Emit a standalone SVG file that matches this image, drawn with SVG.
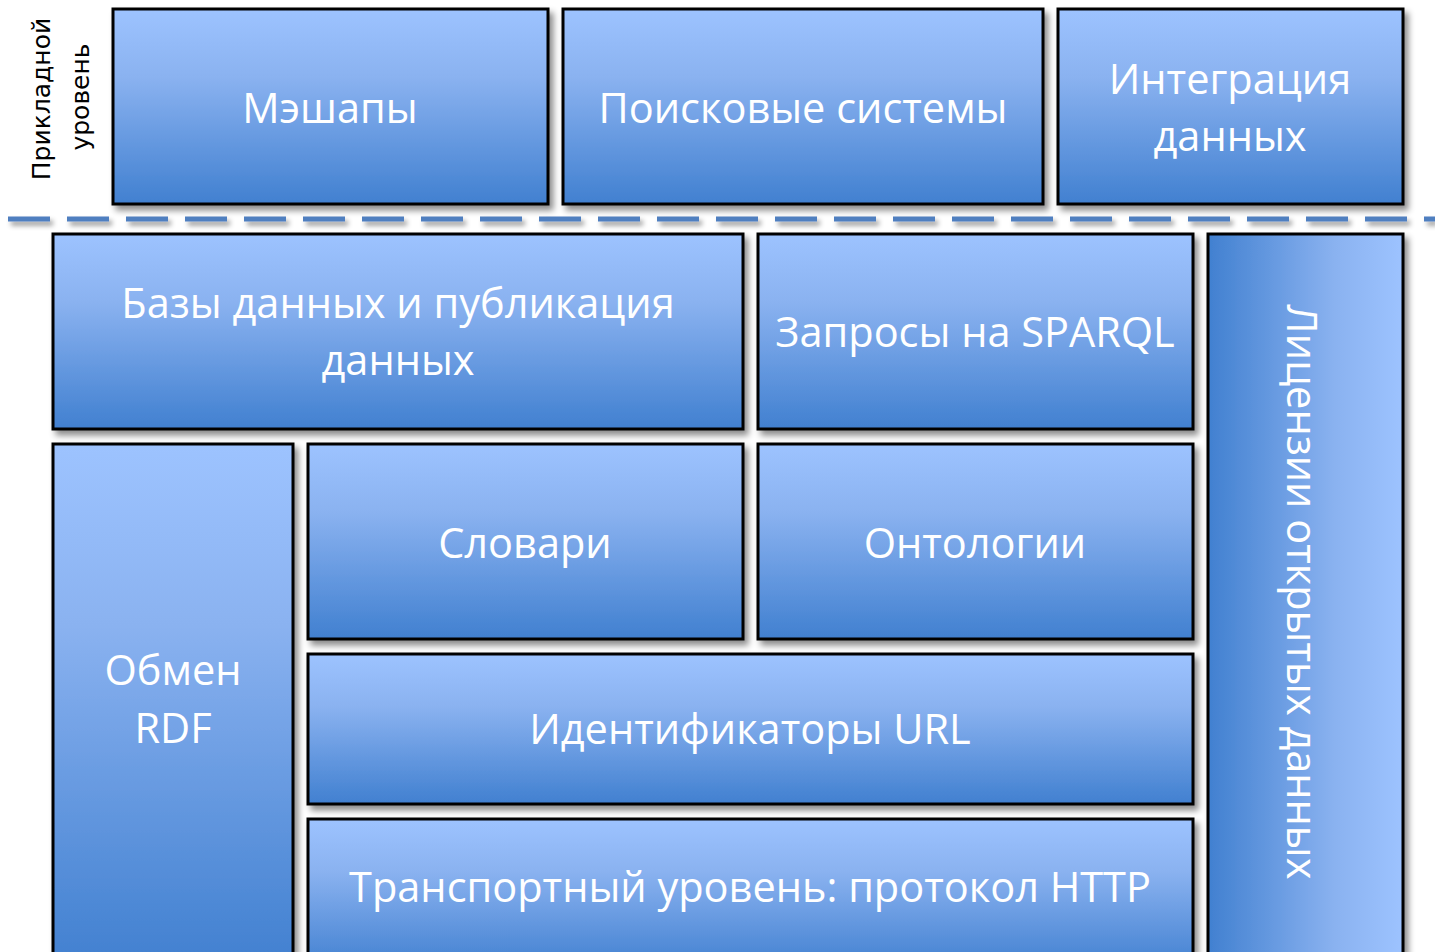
<svg xmlns="http://www.w3.org/2000/svg" width="1435" height="952" viewBox="0 0 1435 952">
<defs>
<linearGradient id="gv" x1="0" y1="0" x2="0" y2="1">
<stop offset="0" stop-color="#9dc3ff"/>
<stop offset="0.35" stop-color="#8ab2f0"/>
<stop offset="1" stop-color="#4180d0"/>
</linearGradient>
<linearGradient id="gh" x1="0" y1="0" x2="1" y2="0">
<stop offset="0" stop-color="#4180d0"/>
<stop offset="0.65" stop-color="#8ab2f0"/>
<stop offset="1" stop-color="#9dc3ff"/>
</linearGradient>
<filter id="sh" x="-10%" y="-10%" width="130%" height="130%">
<feDropShadow dx="4" dy="5" stdDeviation="3" flood-color="#000" flood-opacity="0.45"/>
</filter>
<filter id="shl" filterUnits="userSpaceOnUse" x="0" y="205" width="1435" height="30">
<feDropShadow dx="3" dy="4" stdDeviation="2.5" flood-color="#000" flood-opacity="0.4"/>
</filter>
</defs>
<style>
.b{fill:url(#gv);stroke:#000;stroke-width:3;filter:url(#sh)}
.bh{fill:url(#gh);stroke:#000;stroke-width:3;filter:url(#sh)}
.t{font-family:"Open Sans","Noto Sans",sans-serif;font-size:41.5px;fill:#fff;text-anchor:middle}
.l{font-family:"DejaVu Sans",Verdana,sans-serif;font-size:25px;fill:#000;text-anchor:middle}
</style>
<rect width="1435" height="952" fill="#fff"/>
<g id="label-app">
<text class="l" transform="translate(50,99) rotate(-90)">Прикладной</text>
<text class="l" transform="translate(89,97) rotate(-90)">уровень</text>
</g>
<g id="connectors">
<line x1="8" y1="219" x2="1435" y2="219" stroke="#4f7fc0" stroke-width="5" stroke-dasharray="42 17" filter="url(#shl)"/>
</g>
<g id="mashups">
<rect class="b" x="113" y="9" width="435" height="195"/>
<text class="t" x="330" y="123">Мэшапы</text>
</g>
<g id="search">
<rect class="b" x="563" y="9" width="480" height="195"/>
<text class="t" x="803" y="123">Поисковые системы</text>
</g>
<g id="integration">
<rect class="b" x="1058" y="9" width="345" height="195"/>
<text class="t" x="1230" y="94">Интеграция</text>
<text class="t" x="1230" y="151">данных</text>
</g>
<g id="databases">
<rect class="b" x="53" y="234" width="690" height="195"/>
<text class="t" x="398" y="318">Базы данных и публикация</text>
<text class="t" x="398" y="375">данных</text>
</g>
<g id="sparql">
<rect class="b" x="758" y="234" width="435" height="195"/>
<text class="t" x="975" y="347">Запросы на SPARQL</text>
</g>
<g id="licenses">
<rect class="bh" x="1208" y="234" width="195" height="730"/>
<text class="t" transform="translate(1287,592) rotate(90)">Лицензии открытых данных</text>
</g>
<g id="rdf">
<rect class="b" x="53" y="444" width="240" height="520"/>
<text class="t" x="173" y="685">Обмен</text>
<text class="t" x="173" y="743">RDF</text>
</g>
<g id="vocab">
<rect class="b" x="308" y="444" width="435" height="195"/>
<text class="t" x="525" y="558">Словари</text>
</g>
<g id="ontologies">
<rect class="b" x="758" y="444" width="435" height="195"/>
<text class="t" x="975" y="558">Онтологии</text>
</g>
<g id="url">
<rect class="b" x="308" y="654" width="885" height="150"/>
<text class="t" x="750" y="744">Идентификаторы URL</text>
</g>
<g id="http">
<rect class="b" x="308" y="819" width="885" height="150"/>
<text class="t" x="750" y="902">Транспортный уровень: протокол HTTP</text>
</g>
</svg>
